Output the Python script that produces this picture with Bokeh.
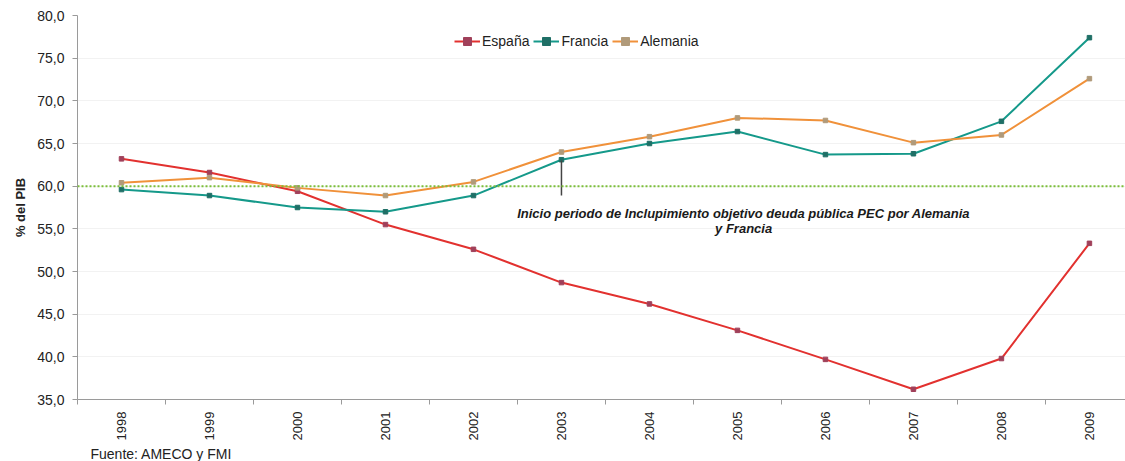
from math import pi

from bokeh.plotting import figure
from bokeh.models import (Range1d, FixedTicker, CustomJSTickFormatter, Legend,
                          LegendItem, Span, Label, Title)
from bokeh.embed import file_html
from bokeh.resources import INLINE

# Deuda pública (% del PIB)
years = ["1998", "1999", "2000", "2001", "2002", "2003",
         "2004", "2005", "2006", "2007", "2008", "2009"]
espana = [63.2, 61.6, 59.4, 55.5, 52.6, 48.7, 46.2, 43.1, 39.7, 36.2, 39.8, 53.3]
francia = [59.6, 58.9, 57.5, 57.0, 58.9, 63.1, 65.0, 66.4, 63.7, 63.8, 67.6, 77.4]
alemania = [60.4, 61.0, 59.8, 58.9, 60.5, 64.0, 65.8, 68.0, 67.7, 65.1, 66.0, 72.6]
y_ticks = [35, 40, 45, 50, 55, 60, 65, 70, 75, 80]
limite_pec = 60.0

FONT = "Liberation Sans"
xs = list(range(len(years)))

p = figure(width=1125, height=461, output_backend="svg", toolbar_location=None,
           x_range=Range1d(-0.5, 11.41), y_range=Range1d(35, 80),
           min_border_left=77, min_border_right=0, min_border_top=15,
           min_border_bottom=0)
p.outline_line_color = None
p.background_fill_color = "white"

# ejes
p.xaxis.ticker = FixedTicker(ticks=xs, minor_ticks=[i - 0.5 for i in range(13)])
p.xaxis.major_label_overrides = {i: y for i, y in enumerate(years)}
p.xaxis.major_label_orientation = pi / 2
p.xaxis.major_tick_out = 0
p.xaxis.major_tick_in = 0
p.xaxis.minor_tick_out = 5
p.xaxis.minor_tick_in = 0
p.xaxis.minor_tick_line_color = "#9a9a9a"
p.xaxis.axis_line_color = "#9a9a9a"
p.xaxis.major_label_text_font = FONT
p.xaxis.major_label_text_font_size = "13px"
p.xaxis.major_label_text_color = "#222222"
p.xaxis.major_label_standoff = 7

p.yaxis.ticker = FixedTicker(ticks=y_ticks)
p.yaxis.formatter = CustomJSTickFormatter(code="return tick.toFixed(1).replace('.', ',');")
p.yaxis.minor_tick_line_color = None
p.yaxis.major_tick_out = 5
p.yaxis.major_tick_in = 0
p.yaxis.major_tick_line_color = "#9a9a9a"
p.yaxis.axis_line_color = "#9a9a9a"
p.yaxis.major_label_text_font = FONT
p.yaxis.major_label_text_font_size = "14px"
p.yaxis.major_label_text_color = "#222222"
p.yaxis.major_label_standoff = 8
p.yaxis.axis_label = "% del PIB"
p.yaxis.axis_label_text_font = FONT
p.yaxis.axis_label_text_font_style = "bold"
p.yaxis.axis_label_text_font_size = "13px"
p.yaxis.axis_label_text_color = "#222222"
p.yaxis.axis_label_standoff = 6

p.xgrid.grid_line_color = None
p.ygrid.grid_line_color = "#f2f2f2"
p.ygrid.grid_line_width = 1

# umbral del 60 % (PEC)
p.add_layout(Span(location=limite_pec, dimension="width", line_color="#7cbf3a",
                  line_width=2, line_dash="2 2"))

series = [("España", espana, "#e2312f", "#a0405a"),
          ("Francia", francia, "#15998a", "#1f6f66"),
          ("Alemania", alemania, "#f0913a", "#b09a7a")]
items = []
for name, vals, col, mcol in series:
    ln = p.line(xs, vals, line_color=col, line_width=2)
    mk = p.scatter(xs, vals, marker="square", size=4.5, fill_color=mcol,
                   line_color=mcol)
    items.append(LegendItem(label=name, renderers=[ln, mk]))

legend = Legend(items=items, orientation="horizontal", location=(377, 348),
                background_fill_alpha=0, border_line_color=None,
                label_text_font=FONT, label_text_font_size="14px",
                label_text_color="#222222", glyph_width=26, spacing=4,
                label_standoff=2, padding=0, margin=0)
p.add_layout(legend, "center")

# inicio del incumplimiento del objetivo de deuda
p.segment(x0=[5], y0=[63.0], x1=[5], y1=[58.9], line_color="#444444", line_width=1.5)
p.add_layout(Label(x=7.07, y=56.8, text="Inicio periodo de Inclupimiento objetivo deuda pública PEC por Alemania",
                   text_align="center", text_baseline="middle", text_font=FONT,
                   text_font_style="bold italic", text_font_size="13px",
                   text_color="#1a1a1a"))
p.add_layout(Label(x=7.07, y=55.0, text="y Francia",
                   text_align="center", text_baseline="middle", text_font=FONT,
                   text_font_style="bold italic", text_font_size="13px",
                   text_color="#1a1a1a"))

# fuente
p.add_layout(Title(text="Fuente: AMECO y FMI", align="left", offset=13,
                   text_font=FONT, text_font_style="normal",
                   text_font_size="14px", text_color="#222222",
                   standoff=0), "below")

open("out.html", "w").write(file_html(p, INLINE))
